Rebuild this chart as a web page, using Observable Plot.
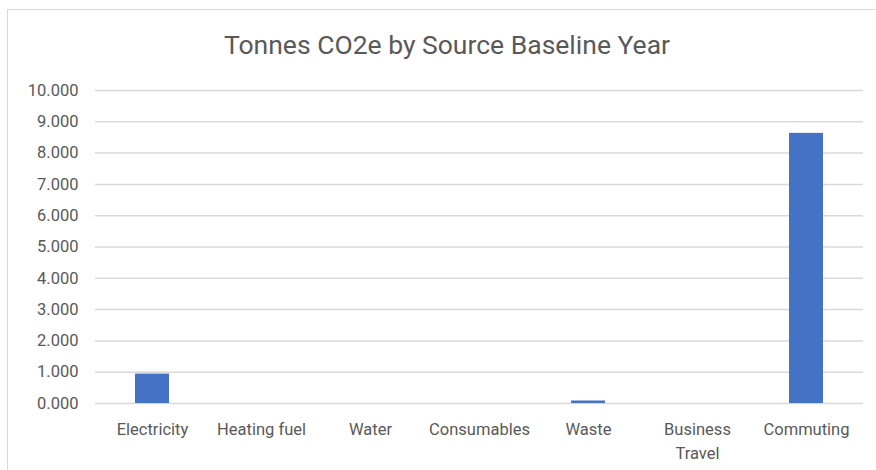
<!DOCTYPE html>
<html>
<head>
<meta charset="utf-8">
<script src="https://cdn.jsdelivr.net/npm/d3@7"></script>
<script src="https://cdn.jsdelivr.net/npm/@observablehq/plot@0.6"></script>
<style>
  html, body { margin: 0; padding: 0; background: #fff; }
  #wrap { position: relative; width: 876px; height: 470px; overflow: hidden; font-family: Roboto, "Liberation Sans", sans-serif; }
  #frame { position: absolute; left: 7px; top: 9px; width: 900px; height: 480px; border: 1.5px solid #d9d9d9; box-sizing: border-box; }
  #title { position: absolute; left: 0; width: 894px; top: 29px; text-align: center; font-size: 26.5px; line-height: 32px; color: #595959; }
  #chart { position: absolute; left: 0; top: 70px; }
</style>
</head>
<body>
<div id="wrap">
  <div id="frame"></div>
  <div id="title">Tonnes CO2e by Source Baseline Year</div>
  <div id="chart"></div>
</div>
<script>
const categories = ["Electricity", "Heating fuel", "Water", "Consumables", "Waste", "Business Travel", "Commuting"];
const values = [0.94, 0, 0, 0, 0.08, 0, 8.63];
const yTicks = [0, 1, 2, 3, 4, 5, 6, 7, 8, 9, 10];

const data = categories.map((c, i) => ({category: c, value: values[i]}));

const chart = Plot.plot({
  width: 876,
  height: 400,
  marginTop: 20,
  marginBottom: 67,
  marginLeft: 95,
  marginRight: 13,
  style: {fontFamily: "Roboto, 'Liberation Sans', sans-serif", fontSize: "16.5px", color: "#595959", background: "transparent"},
  x: {domain: categories, paddingInner: 0.69, paddingOuter: 0.345, label: null},
  y: {domain: [0, 10], label: null},
  marks: [
    Plot.gridY(yTicks, {stroke: "#d9d9d9", strokeOpacity: 1, strokeWidth: 1.5}),
    Plot.barY(data, {x: "category", y: "value", fill: "#4472C4"}),
    Plot.axisY({ticks: yTicks, tickSize: 0, tickPadding: 17, tickFormat: d => d3.format(".3f")(d), fill: "#595959", fontSize: 16.5}),
    Plot.axisX({tickSize: 0, tickPadding: 15, fontSize: 16.5, fill: "#595959", lineHeight: 1.45,
      tickFormat: d => d === "Business Travel" ? "Business\nTravel" : d})
  ]
});
document.getElementById("chart").appendChild(chart);
</script>
</body>
</html>
